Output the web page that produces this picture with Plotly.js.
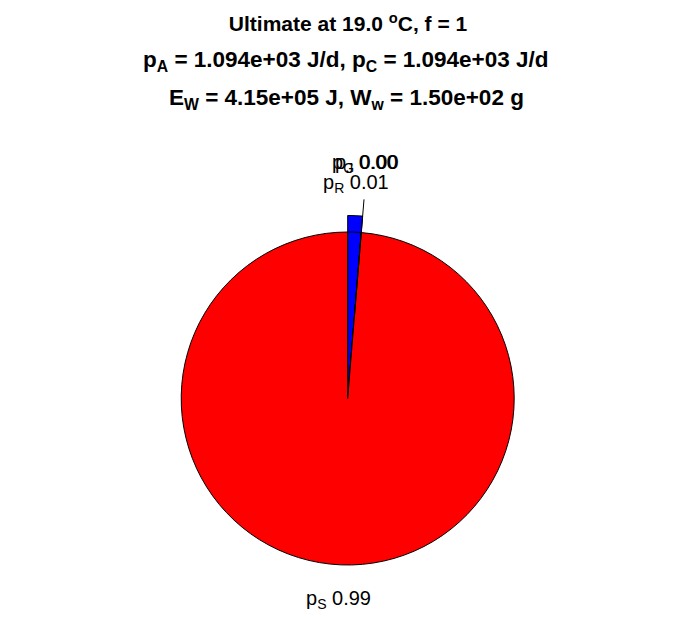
<!DOCTYPE html>
<html>
<head>
<meta charset="utf-8">
<script src="https://cdn.plot.ly/plotly-3.0.1.min.js"></script>
<style>html,body{margin:0;padding:0;background:#fff;}#chart{width:696px;height:618px;}</style>
</head>
<body>
<div id="chart"></div>
<script>
// ---- data ----
const sliceNames = ['R', 'G', 'J', 'S'];
const sliceValues = [0.013, 0, 0, 0.987];
const sliceColors = ['#0000ff', '#00ff00', '#ffff00', '#ff0000'];
const tempC = 19.0;
const fLevel = 1;
const pA = 1094;
const pC = 1094;
const EW = 4.15e5;
const Ww = 150;

// ---- helpers ----
const W = 696, H = 618;
const px = x => x / W;
const py = y => 1 - y / H;
function sci(v, d) {
  const s = v.toExponential(d);
  const [m, e] = s.split('e');
  const sign = e[0] === '-' ? '-' : '+';
  const ex = Math.abs(parseInt(e, 10)).toString().padStart(2, '0');
  return m + 'e' + sign + ex;
}

// pie geometry (pixels)
const CX = 347.7, CY = 398.5, R = 166.5;
const RBIG = 183;
const font = 'Liberation Sans, Arial, Helvetica, sans-serif';

const total = sliceValues.reduce((a, b) => a + b, 0);
// angle of the edge after the small slices (clockwise from 12 o'clock)
const edgeFrac = (sliceValues[0] + sliceValues[1] + sliceValues[2]) / total;
const edgeAng = edgeFrac * 2 * Math.PI;

const bigColors = sliceColors.map((c, i) => i === 0 ? c : 'rgba(0,0,0,0)');
const bigLines = sliceColors.map((c, i) => i === 0 ? '#000000' : 'rgba(0,0,0,0)');

const traces = [
  {
    type: 'pie',
    labels: sliceNames.map(n => 'p_' + n),
    values: sliceValues,
    sort: false,
    direction: 'clockwise',
    rotation: 0,
    textinfo: 'none',
    hoverinfo: 'skip',
    showlegend: false,
    marker: {colors: bigColors, line: {color: bigLines, width: 1}},
    domain: {x: [px(CX - RBIG), px(CX + RBIG)], y: [py(CY + RBIG), py(CY - RBIG)]}
  },
  {
    type: 'pie',
    labels: sliceNames.map(n => 'p_' + n),
    values: sliceValues,
    sort: false,
    direction: 'clockwise',
    rotation: 0,
    textinfo: 'none',
    hoverinfo: 'label+value',
    showlegend: false,
    marker: {colors: sliceColors, line: {color: '#000000', width: 1}},
    domain: {x: [px(CX - R), px(CX + R)], y: [py(CY + R), py(CY - R)]}
  }
];

const labelFont = {family: font, size: 20, color: '#000000'};
const lab = i => 'p<sub>' + sliceNames[i] + '</sub> ' + sliceValues[i].toFixed(2);

const annotations = [
  {text: '<b>p<sub>A</sub> = ' + sci(pA, 3) + ' J/d, p<sub>C</sub> = ' + sci(pC, 3) + ' J/d</b>',
   xref: 'paper', yref: 'paper', x: px(346), y: py(61), xanchor: 'center', yanchor: 'middle',
   showarrow: false, font: {family: font, size: 22.5, color: '#000000'}},
  {text: '<b>E<sub>W</sub> = ' + sci(EW, 2) + ' J, W<sub>w</sub> = ' + sci(Ww, 2) + ' g</b>',
   xref: 'paper', yref: 'paper', x: px(346.5), y: py(99), xanchor: 'center', yanchor: 'middle',
   showarrow: false, font: {family: font, size: 22.5, color: '#000000'}},
  {text: lab(1), xref: 'paper', yref: 'paper', x: px(365), y: py(164), xanchor: 'center', yanchor: 'middle', showarrow: false, font: labelFont},
  {text: lab(2), xref: 'paper', yref: 'paper', x: px(366.5), y: py(164), xanchor: 'center', yanchor: 'middle', showarrow: false, font: labelFont},
  {text: lab(0), xref: 'paper', yref: 'paper', x: px(356), y: py(183), xanchor: 'center', yanchor: 'middle', showarrow: false, font: labelFont},
  {text: lab(3), xref: 'paper', yref: 'paper', x: px(338.5), y: py(599), xanchor: 'center', yanchor: 'middle', showarrow: false, font: labelFont}
];

const shapes = [
  {type: 'line', xref: 'paper', yref: 'paper',
   x0: px(CX + R * 0.5 * Math.sin(edgeAng)), y0: py(CY - R * 0.5 * Math.cos(edgeAng)),
   x1: px(CX + R * 1.2 * Math.sin(edgeAng)), y1: py(CY - R * 1.2 * Math.cos(edgeAng)),
   line: {color: '#000000', width: 1}}
];

const layout = {
  width: W, height: H,
  margin: {l: 0, r: 0, t: 0, b: 0},
  paper_bgcolor: '#ffffff',
  title: {
    text: '<b>Ultimate at ' + tempC.toFixed(1) + ' <sup>o</sup>C, f = ' + fLevel + '</b>',
    x: 0.5, xanchor: 'center', xref: 'paper',
    y: py(24), yanchor: 'middle', yref: 'container',
    font: {family: font, size: 21, color: '#000000'}
  },
  annotations: annotations,
  shapes: shapes,
  showlegend: false
};

Plotly.newPlot('chart', traces, layout, {displayModeBar: false, staticPlot: true});
</script>
</body>
</html>
